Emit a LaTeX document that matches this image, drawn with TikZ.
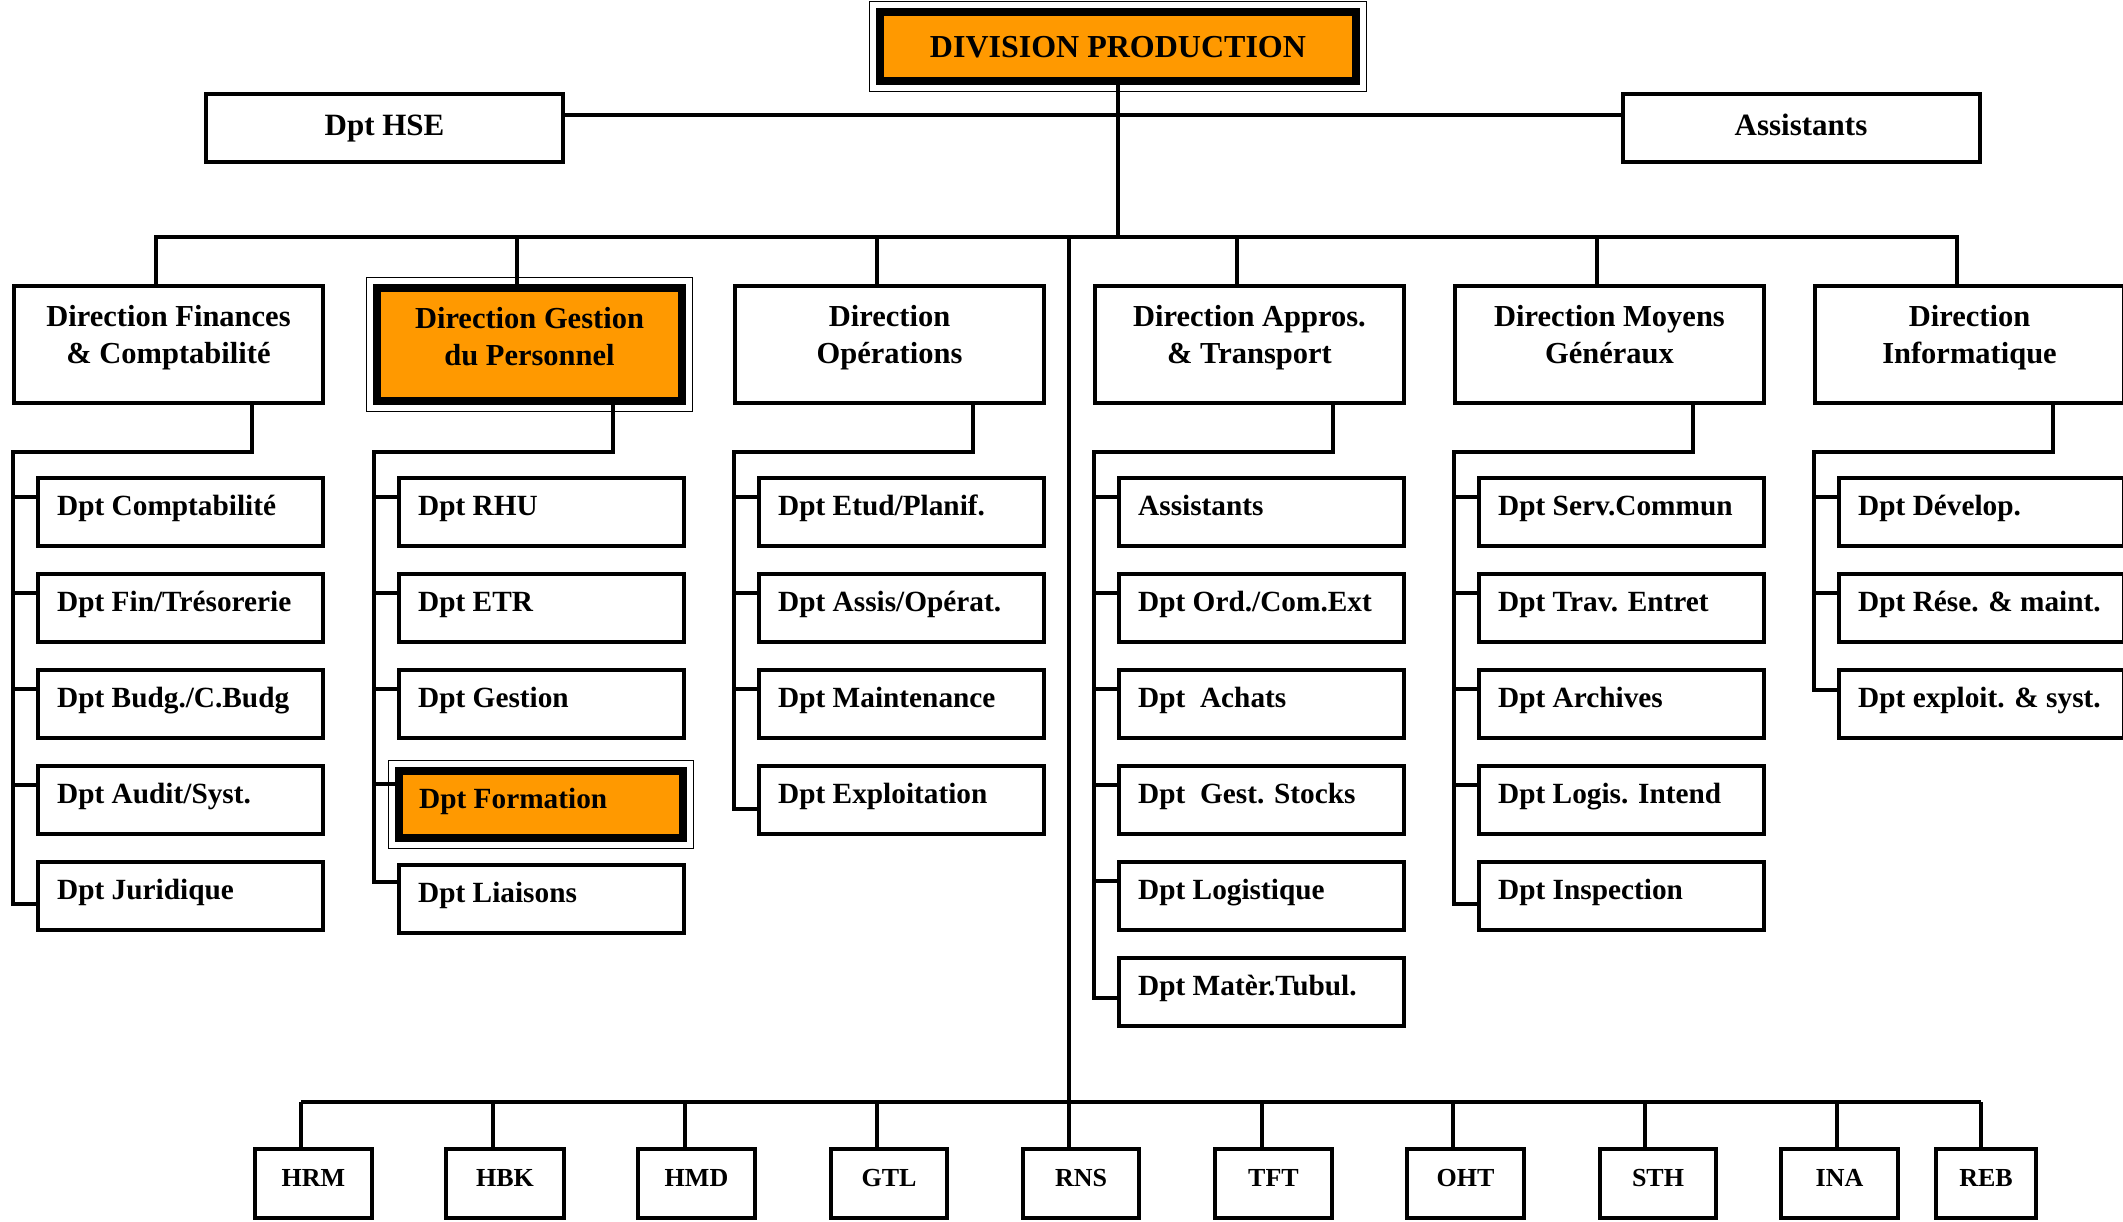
\documentclass[tikz,border=0pt]{standalone}
\usepackage{fontspec}
\setmainfont{Liberation Serif}
\usetikzlibrary{calc}
\definecolor{hlorange}{HTML}{FF9900}

\tikzset{
  conn/.style={line width=4.5pt, line join=miter},
  plainbox/.style={draw, line width=4pt, inner sep=0pt, fill=white},
  hlbox/.style={draw, line width=8pt, inner sep=0pt, fill=hlorange},
  hlframe/.style={draw, line width=1.6pt},
  deptlabel/.style={anchor=base west, inner sep=0pt, font=\fontsize{29.3}{35}\selectfont\bfseries},
  dirlabel/.style={anchor=base, inner sep=0pt, font=\fontsize{30.5}{37}\selectfont\bfseries},
  sitestyle/.style={plainbox, minimum height=69pt, text height=18pt, text depth=13pt,
    font=\fontsize{26}{30}\selectfont\bfseries},
  topstyle/.style={plainbox, minimum width=357pt, minimum height=68pt, text height=22pt,
    text depth=8pt, font=\fontsize{31}{36}\selectfont\bfseries},
}

% department box: name, left, top, tick offset, label
\newcommand\dept[5]{%
  \node[plainbox, minimum width=285pt, minimum height=68pt] (#1) at (#2+144.5,#3+36) {};
  \node[deptlabel] (#1-l) at ($(#1.north west)+(21,39)$) {#5};
  \coordinate (#1-t) at ($(#1.north west)+(0,#4-2)$);
}
% direction box: name, left, line 1, line 2
\newcommand\direction[4]{%
  \node[plainbox, minimum width=309pt, minimum height=117pt] (#1) at (#2+156.5,344.5) {};
  \node[dirlabel] (#1-a) at ($(#1.north)+(0,42)$) {#3};
  \node[dirlabel] (#1-b) at ($(#1.north)+(0,79.5)$) {#4};
  \coordinate (#1-up) at ([xshift=-12.5pt]#1.north);
  \coordinate (#1-dn) at ([xshift=83.5pt]#1.south);
  \coordinate (#1-bar) at ([xshift=-155.5pt]#1.south);
}
% thin outer frame round a highlighted box
\newcommand\frameround[1]{%
  \draw[hlframe] ([xshift=-6.5pt,yshift=6.5pt]#1.north west) rectangle ([xshift=6.5pt,yshift=-6.5pt]#1.south east);
}
% tick from a column bar to a department
\newcommand\tick[2]{\draw[conn] (#1-bar |- #2-t) -- (#2-t);}
% column bar down to the last department
\newcommand\wire[2]{\draw[conn] (#1-dn) |- (#1-bar |- junc) |- (#2-t);}
% site box: name, left, right, drop offset, label
\newcommand\site[5]{%
  \node[sitestyle, minimum width=#3-#2-4] (#1) at ({(#2+#3)/2},1183.5) {#5};
  \coordinate (#1-up) at ([xshift=#4pt]#1.north);
  \draw[conn] (#1-up |- bb) -- (#1-up);
}

\begin{document}
\begin{tikzpicture}[x=1pt,y=-1pt]
\useasboundingbox (0,0) rectangle (2123,1221);
\clip (0,0) rectangle (2123,1221);

\coordinate (bus) at (0,237);
\coordinate (junc) at (0,452);
\coordinate (bb) at (0,1102);

% head of the division
\node[hlbox, minimum width=476pt, minimum height=69pt, text height=23pt, text depth=2pt,
  font=\fontsize{32}{38}\selectfont\bfseries] (div) at (1118,46.5) {DIVISION PRODUCTION};
\frameround{div}

\node[topstyle] (hse) at (384.5,128) {Dpt HSE};
\node[topstyle] (asst) at (1801,128) {Assistants};
\draw[conn] ([yshift=13pt]hse.east) -- ([yshift=13pt]asst.west);

% directions
\direction{dfin}{12}{Direction Finances}{\& Comptabilité}
\node[hlbox, minimum width=305pt, minimum height=113pt] (dges) at (529.5,344.5) {};
\frameround{dges}
\node[dirlabel] (dges-a) at ($(dges.north)+(0,44)$) {Direction Gestion};
\node[dirlabel] (dges-b) at ($(dges.north)+(0,81.5)$) {du Personnel};
\coordinate (dges-up) at ([xshift=-12.5pt]dges.north);
\coordinate (dges-dn) at ([xshift=83.5pt]dges.south);
\coordinate (dges-bar) at ([xshift=-155.5pt]dges.south);
\direction{dope}{733}{Direction}{Opérations}
\direction{dapp}{1093}{Direction Appros.}{\& Transport}
\direction{dmoy}{1453}{Direction Moyens}{Généraux}
\direction{dinf}{1813}{Direction}{Informatique}

% trunk and main bus
\draw[conn] (div.south) -- (div.south |- bus);
\draw[conn] (dfin-up) |- (dinf-up |- bus) -- (dinf-up);
\foreach \d in {dges,dope,dapp,dmoy} {\draw[conn] (\d-up |- bus) -- (\d-up);}

% Finances & Comptabilite
\dept{comp}{36}{476}{23}{Dpt Comptabilité}
\dept{treso}{36}{572}{23}{Dpt Fin/Trésorerie}
\dept{budg}{36}{668}{23}{Dpt Budg./C.Budg}
\dept{audit}{36}{764}{23}{Dpt Audit/Syst.}
\dept{jur}{36}{860}{46}{Dpt Juridique}
\wire{dfin}{jur}
\foreach \b in {comp,treso,budg,audit} {\tick{dfin}{\b}}

% Gestion du Personnel
\dept{rhu}{397}{476}{23}{Dpt RHU}
\dept{etr}{397}{572}{23}{Dpt ETR}
\dept{gest}{397}{668}{23}{Dpt Gestion}
\node[hlbox, minimum width=284pt, minimum height=67pt] (form) at (541,804.5) {};
\frameround{form}
\node[deptlabel] (form-l) at ($(form.north west)+(24,41)$) {Dpt Formation};
\coordinate (form-t) at ($(form.north west)+(0,17)$);
\dept{liai}{397}{863}{21}{Dpt Liaisons}
\wire{dges}{liai}
\foreach \b in {rhu,etr,gest,form} {\tick{dges}{\b}}

% Operations
\dept{etud}{757}{476}{23}{Dpt Etud/Planif.}
\dept{assis}{757}{572}{23}{Dpt Assis/Opérat.}
\dept{maint}{757}{668}{23}{Dpt Maintenance}
\dept{exploi}{757}{764}{47}{Dpt Exploitation}
\wire{dope}{exploi}
\foreach \b in {etud,assis,maint} {\tick{dope}{\b}}

% Appros. & Transport
\dept{aasst}{1117}{476}{23}{Assistants}
\dept{ord}{1117}{572}{23}{Dpt Ord./Com.Ext}
\dept{ach}{1117}{668}{23}{Dpt~ Achats}
\dept{stock}{1117}{764}{23}{Dpt~ Gest. Stocks}
\dept{logi}{1117}{860}{23}{Dpt Logistique}
\dept{mater}{1117}{956}{44}{Dpt Matèr.Tubul.}
\wire{dapp}{mater}
\foreach \b in {aasst,ord,ach,stock,logi} {\tick{dapp}{\b}}

% Moyens Generaux
\dept{serv}{1477}{476}{23}{Dpt Serv.Commun}
\dept{trav}{1477}{572}{23}{Dpt Trav. Entret}
\dept{arch}{1477}{668}{23}{Dpt Archives}
\dept{logis}{1477}{764}{23}{Dpt Logis. Intend}
\dept{insp}{1477}{860}{46}{Dpt Inspection}
\wire{dmoy}{insp}
\foreach \b in {serv,trav,arch,logis} {\tick{dmoy}{\b}}

% Informatique
\dept{dev}{1837}{476}{23}{Dpt Dévelop.}
\dept{rese}{1837}{572}{23}{Dpt Rése. \& maint.}
\dept{sys}{1837}{668}{24}{Dpt exploit. \& syst.}
\wire{dinf}{sys}
\foreach \b in {dev,rese} {\tick{dinf}{\b}}

% sites
\site{hrm}{253}{374}{-12.5}{HRM}
\site{hbk}{444}{566}{-12}{HBK}
\site{hmd}{636}{757}{-11.5}{HMD}
\site{gtl}{829}{949}{-12}{GTL}
\site{rns}{1021}{1141}{-12}{RNS}
\site{tft}{1213}{1334}{-11.5}{TFT}
\site{oht}{1405}{1526}{-12.5}{OHT}
\site{sth}{1598}{1718}{-13}{STH}
\site{ina}{1779}{1900}{-2.5}{INA}
\site{reb}{1934}{2038}{-5}{REB}
\draw[conn] (hrm-up |- bb) -- (reb-up |- bb);
\draw[conn] (rns-up |- bus) -- (rns-up);
\end{tikzpicture}
\end{document}
